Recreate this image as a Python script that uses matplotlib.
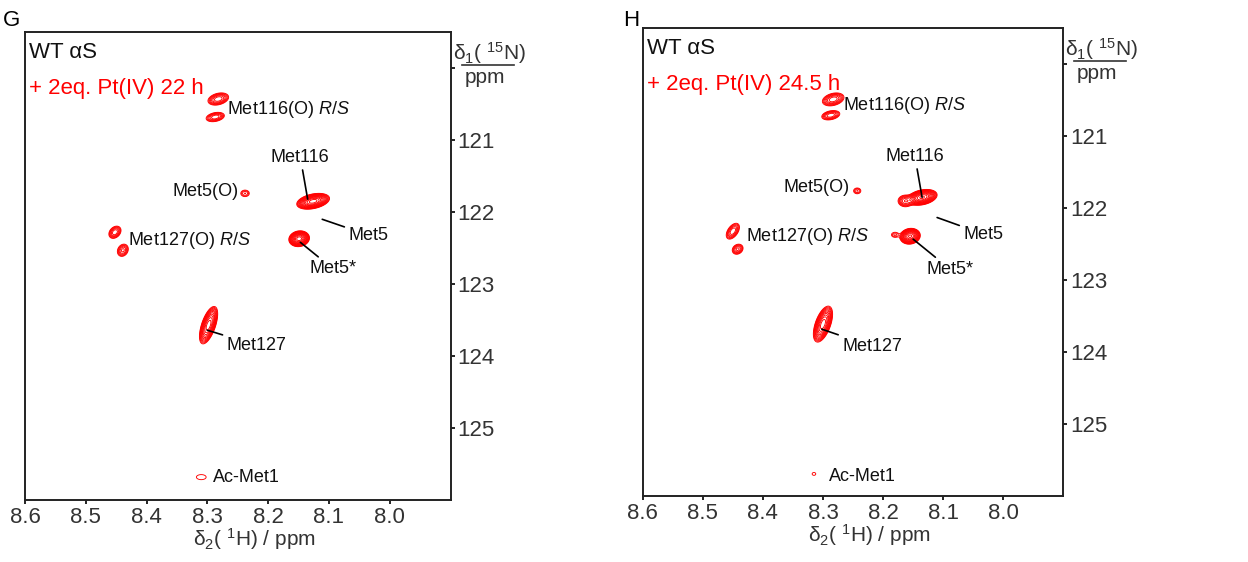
import matplotlib
matplotlib.use('Agg')
import matplotlib.pyplot as plt
import numpy as np

plt.rcParams['font.family'] = ['Liberation Sans', 'DejaVu Sans']
plt.rcParams['mathtext.fontset'] = 'custom'
plt.rcParams['mathtext.rm'] = 'Liberation Sans'
plt.rcParams['mathtext.it'] = 'Liberation Sans:italic'
plt.rcParams['mathtext.default'] = 'regular'

# ---- peak lists (1H ppm, 15N ppm, outer half-widths in ppm, tilt, height) ----
# panel G : + 2eq. Pt(IV) 22 h
g_h   = [8.282, 8.287, 8.238, 8.126, 8.149, 8.452, 8.439, 8.298, 8.310]
g_n   = [120.43, 120.68, 121.74, 121.85, 122.37, 122.28, 122.53, 123.57, 125.68]
g_wh  = [0.017, 0.015, 0.007, 0.027, 0.017, 0.010, 0.009, 0.015, 0.008]
g_wn  = [0.085, 0.065, 0.045, 0.110, 0.110, 0.085, 0.085, 0.260, 0.035]
g_rho = [0.3, 0.3, 0.0, 0.35, 0.1, 0.3, 0.2, 0.6, 0.0]
g_amp = [8, 6, 2.5, 45, 45, 6, 5, 25, 1.3]

# panel H : + 2eq. Pt(IV) 24.5 h
h_h   = [8.283, 8.287, 8.243, 8.135, 8.163, 8.155, 8.180, 8.450, 8.442, 8.300, 8.315]
h_n   = [120.49, 120.71, 121.76, 121.85, 121.90, 122.39, 122.37, 122.32, 122.57, 123.61, 125.69]
h_wh  = [0.018, 0.015, 0.006, 0.025, 0.012, 0.017, 0.006, 0.011, 0.009, 0.016, 0.003]
h_wn  = [0.090, 0.065, 0.040, 0.110, 0.080, 0.110, 0.035, 0.110, 0.070, 0.250, 0.020]
h_rho = [0.3, 0.3, 0.0, 0.3, 0.0, 0.1, 0.0, 0.5, 0.2, 0.55, 0.0]
h_amp = [8, 6, 2.5, 40, 6, 40, 2, 6, 5, 25, 1.15]

# ---- assignment labels ----
# (text, label x, label y, peak x, peak y or None, alignment)
g_labels = [
    ('Met116(O)', 8.267, 120.57, None, None, 'left'),
    ('Met116', 8.147, 121.24, 8.135, 121.82, 'center'),
    ('Met5(O)', 8.249, 121.72, None, None, 'right'),
    ('Met5', 8.035, 122.32, 8.111, 122.10, 'center'),
    ('Met127(O)', 8.430, 122.39, None, None, 'left'),
    ('Met5*', 8.093, 122.79, 8.147, 122.42, 'center'),
    ('Met127', 8.219, 123.85, 8.300, 123.64, 'center'),
    ('Ac-Met1', 8.290, 125.68, None, None, 'left'),
]
h_labels = [
    ('Met116(O)', 8.267, 120.58, None, None, 'left'),
    ('Met116', 8.147, 121.28, 8.135, 121.85, 'center'),
    ('Met5(O)', 8.255, 121.71, None, None, 'right'),
    ('Met5', 8.033, 122.36, 8.110, 122.13, 'center'),
    ('Met127(O)', 8.428, 122.40, None, None, 'left'),
    ('Met5*', 8.088, 122.85, 8.150, 122.43, 'center'),
    ('Met127', 8.218, 123.92, 8.302, 123.68, 'center'),
    ('Ac-Met1', 8.290, 125.72, None, None, 'left'),
]

x_ticks = [8.6, 8.5, 8.4, 8.3, 8.2, 8.1, 8.0]
y_ticks = [120, 121, 122, 123, 124, 125]
y_ticklabels = ['', '121', '122', '123', '124', '125']


def spectrum(hh, nn, h0, n0, wh, wn, rho, amp):
    # sum of 2D gaussians, lowest contour (level 1) sits at the given half-widths
    z = np.zeros_like(hh)
    for i in range(len(h0)):
        f = np.sqrt(2 * np.log(amp[i]))
        dx = (hh - h0[i]) / (wh[i] / f)
        dy = (nn - n0[i]) / (wn[i] / f)
        r = rho[i]
        q = (dx**2 - 2 * r * dx * dy + dy**2) / (1 - r**2)
        z += amp[i] * np.exp(-q / 2)
    return z


hgrid = np.linspace(7.9, 8.6, 1400)
ngrid = np.linspace(119.5, 126.1, 1400)
HH, NN = np.meshgrid(hgrid, ngrid)
levels = [1.35**k for k in range(16)]

fig = plt.figure(figsize=(12.48, 5.62), dpi=100)
axG = fig.add_axes([0.020, 0.110, 0.341, 0.833])
axH = fig.add_axes([0.515, 0.117, 0.337, 0.833])

panels = [
    (axG, 'G', 0.0096, '22 h', (g_h, g_n, g_wh, g_wn, g_rho, g_amp), g_labels),
    (axH, 'H', 0.506, '24.5 h', (h_h, h_n, h_wh, h_wn, h_rho, h_amp), h_labels),
]

for ax, letter, lx, time, peaks, labels in panels:
    Z = spectrum(HH, NN, *peaks)
    ax.contour(HH, NN, Z, levels=levels, colors='#ff0000', linewidths=0.65)

    for name, tx, ty, px, py, ha in labels:
        s = name
        if name in ('Met116(O)', 'Met127(O)'):
            s = name + ' $\\it{R/S}$'
        if px is None:
            ax.text(tx, ty, s, fontsize=13, ha=ha, va='center', color='#111111')
        else:
            ax.annotate(s, xy=(px, py), xytext=(tx, ty), fontsize=13,
                        ha='center', va='center', color='#111111',
                        arrowprops=dict(arrowstyle='-', color='k', lw=1.2,
                                        shrinkA=1, shrinkB=0))

    ax.set_xlim(8.6, 7.9)
    ax.set_ylim(126.0, 119.5)
    ax.set_xticks(x_ticks)
    ax.set_xticklabels(['%.1f' % v for v in x_ticks])
    ax.set_yticks(y_ticks)
    ax.set_yticklabels(y_ticklabels)
    ax.yaxis.tick_right()
    ax.tick_params(axis='both', direction='out', length=3, width=1.2,
                   labelsize=16, labelcolor='#333333', pad=2)
    for sp in ax.spines.values():
        sp.set_linewidth(1.4)
        sp.set_color('#222222')

    ax.set_xlabel(r'$\delta_2$( $^1$H) / ppm', fontsize=15, color='#333333')
    ax.xaxis.set_label_coords(0.54, -0.055)

    ax.text(1.005, 0.955, r'$\delta_1$( $^{15}$N)', transform=ax.transAxes,
            fontsize=15, ha='left', va='center', color='#333333')
    ax.plot([1.026, 1.148], [0.929, 0.929], transform=ax.transAxes,
            color='#333333', lw=1.2, clip_on=False)
    ax.text(1.080, 0.902, 'ppm', transform=ax.transAxes,
            fontsize=15, ha='center', va='center', color='#333333')

    ax.text(0.01, 0.957, 'WT αS', transform=ax.transAxes, fontsize=16,
            ha='left', va='center', color='#111111')
    ax.text(0.01, 0.88, '+ 2eq. Pt(IV) ' + time, transform=ax.transAxes,
            fontsize=16, ha='left', va='center', color='#ff0000')

    fig.text(lx, 0.964, letter, fontsize=16, ha='center', va='center')

fig.savefig('out.png', dpi=100)
